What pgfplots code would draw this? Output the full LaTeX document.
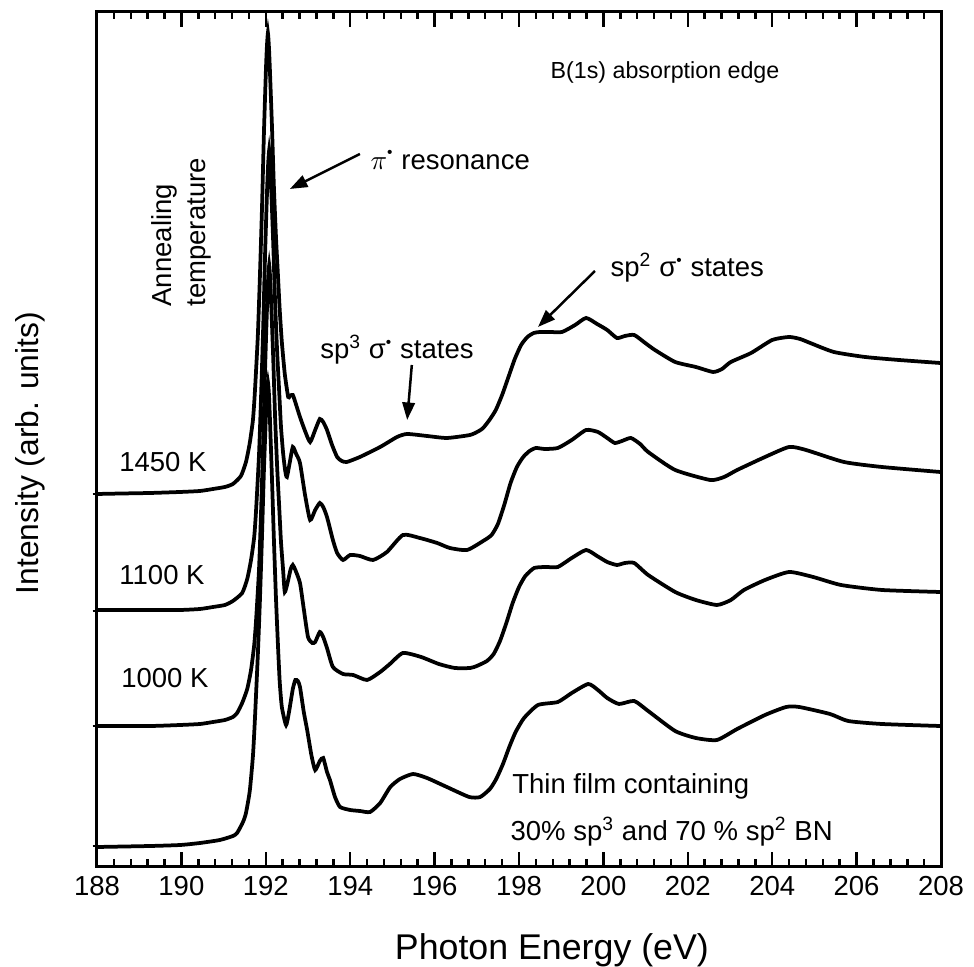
\documentclass[border=0pt]{standalone}
\usepackage{fontspec}
\setmainfont{Liberation Sans}
\usepackage{pgfplots}
\pgfplotsset{compat=1.18}
\usetikzlibrary{arrows.meta}
\newcommand{\sdot}{\textsuperscript{\raisebox{0.15ex}{\scalebox{0.8}{•}}}}
\begin{document}
\begin{tikzpicture}
\begin{axis}[
  scale only axis, width=337.6pt, height=342pt,
  xmin=188, xmax=208, ymin=0, ymax=855,
  axis line style={line width=1.2pt},
  xtick={188,190,...,208}, minor x tick num=4,
  xtick align=inside,
  major tick length=6pt, minor tick length=3pt,
  every tick/.style={line width=1pt, black},
  ytick=\empty,
  extra y ticks={21,141,256,373}, extra y tick labels={},
  extra y tick style={ytick align=center, major tick length=3.5pt},
  ytick pos=left,
  tick label style={font=\fontsize{11}{13}\selectfont},
  /pgf/number format/assume math mode=true,
  xticklabel style={/pgf/number format/1000 sep={}},
  xlabel={Photon Energy (eV)},
  xlabel style={at={(axis description cs:0.539,-0.097)}, anchor=center, font=\fontsize{14.3}{16}\selectfont},
  ylabel={Intensity (arb. units)},
  ylabel style={at={(axis description cs:-0.079,0.484)}, anchor=center, font=\fontsize{12.7}{15}\selectfont},
  clip=false,
]
% 1450 K
\addplot[black, line width=1.5pt, smooth, tension=0.35] coordinates {
(188.00,373) (188.6,373.5) (189.26,374) (189.97,375) (190.44,376) (190.75,378) (191.03,380) (191.22,383)
(191.41,391) (191.53,405) (191.62,424) (191.695,447) (191.74,474) (191.81,530) (191.86,590) (191.91,659)
(191.955,733) (192.003,797) (192.026,820) (192.05,834) (192.074,820) (192.097,797) (192.145,742) (192.19,682)
(192.24,631) (192.29,590) (192.33,557) (192.38,525) (192.45,493) (192.53,470) (192.57,471) (192.64,472)
(192.72,462) (192.81,450) (192.93,436) (193.05,425) (193.17,437) (193.28,448) (193.36,445) (193.45,437)
(193.57,422) (193.69,410) (193.80,406) (193.92,405) (194.23,410) (194.71,420) (195.11,430) (195.35,433)
(195.82,431) (196.29,429) (196.84,432) (197.05,436) (197.15,439) (197.30,447) (197.45,457) (197.60,472)
(197.75,490) (197.90,508) (198.05,522) (198.20,530) (198.35,534) (198.50,535)
(198.73,535) (199.02,535) (199.33,542) (199.59,549) (199.85,543) (200.09,537) (200.32,529) (200.51,531)
(200.73,532) (200.99,524) (201.22,517) (201.70,505) (202.19,500) (202.60,495) (202.81,498) (203.02,505)
(203.50,514) (204.00,527) (204.40,530) (204.66,528) (204.90,524) (205.46,515) (206.20,510) (207.00,507)
(207.98,504)
};
% 1100 K
\addplot[black, line width=1.5pt, smooth, tension=0.35] coordinates {
(188.00,257) (189.26,257) (189.97,257) (190.44,258) (190.75,260) (191.03,262) (191.22,266)
(191.44,274) (191.56,288) (191.65,307) (191.725,330) (191.77,357) (191.84,413) (191.89,473) (191.94,542)
(191.985,616) (192.033,680) (192.056,703) (192.08,717) (192.104,703) (192.127,680) (192.175,625) (192.22,565)
(192.27,514) (192.32,473) (192.36,440) (192.41,414) (192.46,396) (192.50,390) (192.57,405) (192.64,420)
(192.72,413) (192.81,404) (192.93,372) (193.05,347) (193.17,357) (193.28,364) (193.36,360) (193.45,350)
(193.59,327) (193.69,314) (193.83,307) (194.00,312) (194.23,311) (194.54,307) (194.87,315) (195.25,332)
(195.65,329) (196.06,324) (196.36,319) (196.77,317) (197.15,326) (197.35,332) (197.50,343) (197.65,362)
(197.80,384) (197.95,400) (198.10,410) (198.25,416) (198.40,419) (198.61,418) (198.92,419) (199.25,427)
(199.59,437) (199.87,435) (200.09,429) (200.27,424) (200.44,426) (200.65,429) (200.87,423) (201.06,415)
(201.70,397) (202.53,387) (202.86,390) (203.17,397) (203.83,410) (204.40,420) (204.80,417) (205.70,405)
(206.60,400) (207.98,395)
};
% 1000 K
\addplot[black, line width=1.5pt, smooth, tension=0.35] coordinates {
(188.00,141) (189.26,141) (189.97,142) (190.44,143) (190.75,145) (191.03,147) (191.22,150) (191.32,154)
(191.44,164) (191.56,178) (191.65,197) (191.725,222) (191.77,247) (191.84,298) (191.89,358) (191.94,427)
(191.985,501) (192.033,565) (192.056,588) (192.08,602) (192.104,588) (192.127,565) (192.175,510) (192.22,450)
(192.27,399) (192.32,358) (192.36,325) (192.41,297) (192.45,275) (192.52,285) (192.59,298) (192.64,302)
(192.70,297) (192.81,284) (192.90,258) (193.00,230) (193.10,224) (193.17,225) (193.28,235) (193.36,230)
(193.45,219) (193.59,200) (193.83,193) (194.07,192) (194.40,187) (194.71,195) (194.94,203) (195.25,214)
(195.68,210) (196.10,203) (196.48,199) (196.84,199) (197.00,201) (197.24,206) (197.40,213) (197.55,226)
(197.70,244) (197.85,264) (198.00,280) (198.15,291) (198.36,299) (198.64,300) (198.92,300) (199.25,309) (199.59,317)
(199.85,311) (200.09,305) (200.32,302) (200.51,304) (200.73,304) (201.06,292) (201.70,275) (202.19,267)
(202.69,262) (203.02,267) (203.33,277) (203.83,287) (204.40,295) (204.97,290) (205.63,282) (206.60,277)
(207.98,275)
};
% thin film
\addplot[black, line width=1.5pt, smooth, tension=0.35] coordinates {
(188.00,20) (189.26,21) (189.97,22) (190.44,24) (190.91,27) (191.22,31) (191.32,34) (191.46,45)
(191.53,54) (191.62,76) (191.695,111) (191.74,146) (191.81,211) (191.86,266) (191.91,331) (191.955,396)
(192.003,451) (192.026,473) (192.05,485) (192.074,473) (192.097,449) (192.145,390) (192.19,330) (192.24,270)
(192.29,220) (192.33,185) (192.38,160) (192.48,142) (192.55,155) (192.64,178) (192.70,187) (192.76,186)
(192.81,180) (192.90,155) (192.98,137) (193.08,112) (193.17,97) (193.28,106) (193.36,109) (193.45,95)
(193.52,87) (193.64,70) (193.76,60) (194.00,57) (194.23,56) (194.47,55) (194.71,64) (194.95,80)
(195.18,88) (195.49,93) (195.82,89) (196.29,80) (196.82,70) (197.08,70) (197.31,78) (197.46,88)
(197.62,103) (197.77,120) (197.92,135) (198.12,149) (198.45,162) (198.92,165) (199.25,174) (199.64,183)
(199.87,177) (200.09,169) (200.37,163) (200.73,166) (201.06,156) (201.70,136) (202.19,129) (202.69,127)
(203.17,138) (203.83,152) (204.33,160) (204.64,160) (205.37,153) (205.80,146) (206.60,143) (207.98,141)
};
% annotations
\tikzset{ann/.style={font=\fontsize{11}{13}\selectfont, inner sep=0pt}}
\node[ann, anchor=west] at (axis cs:194.47,707) {$\pi$\sdot\ resonance};
\draw[line width=1pt, -{Triangle[length=7pt,width=5pt]}] (axis cs:194.23,713) -- (axis cs:192.57,678);
\node[ann, anchor=center, font=\fontsize{9.3}{11}\selectfont] at (axis cs:201.46,794) {B(1s) absorption edge};
\node[ann, anchor=west] at (axis cs:200.16,599) {sp\textsuperscript{2} σ\sdot\ states};
\draw[line width=1pt, -{Triangle[length=7pt,width=5pt]}] (axis cs:199.80,596) -- (axis cs:198.45,540);
\node[ann, anchor=west] at (axis cs:193.28,517) {sp\textsuperscript{3} σ\sdot\ states};
\draw[line width=1pt, -{Triangle[length=7pt,width=5pt]}] (axis cs:195.46,502) -- (axis cs:195.35,447);
\node[ann, anchor=west] at (axis cs:197.83,81) {Thin film containing};
\node[ann, anchor=west] at (axis cs:197.79,35) {30\% sp\textsuperscript{3} and 70 \% sp\textsuperscript{2} BN};
\node[ann] at (axis cs:189.56,405) {1450 K};
\node[ann] at (axis cs:189.54,292) {1100 K};
\node[ann] at (axis cs:189.61,189) {1000 K};
\node[ann, rotate=90, anchor=base west] at (axis cs:189.76,560) {Annealing};
\node[ann, rotate=90, anchor=base west] at (axis cs:190.58,560) {temperature};
\coordinate (SW) at (rel axis cs:0,0);
\end{axis}
\pgfresetboundingbox
\path[use as bounding box] (SW) ++(-38.8pt,-40pt) rectangle ++(389.6pt,386.8pt);
\end{tikzpicture}
\end{document}
